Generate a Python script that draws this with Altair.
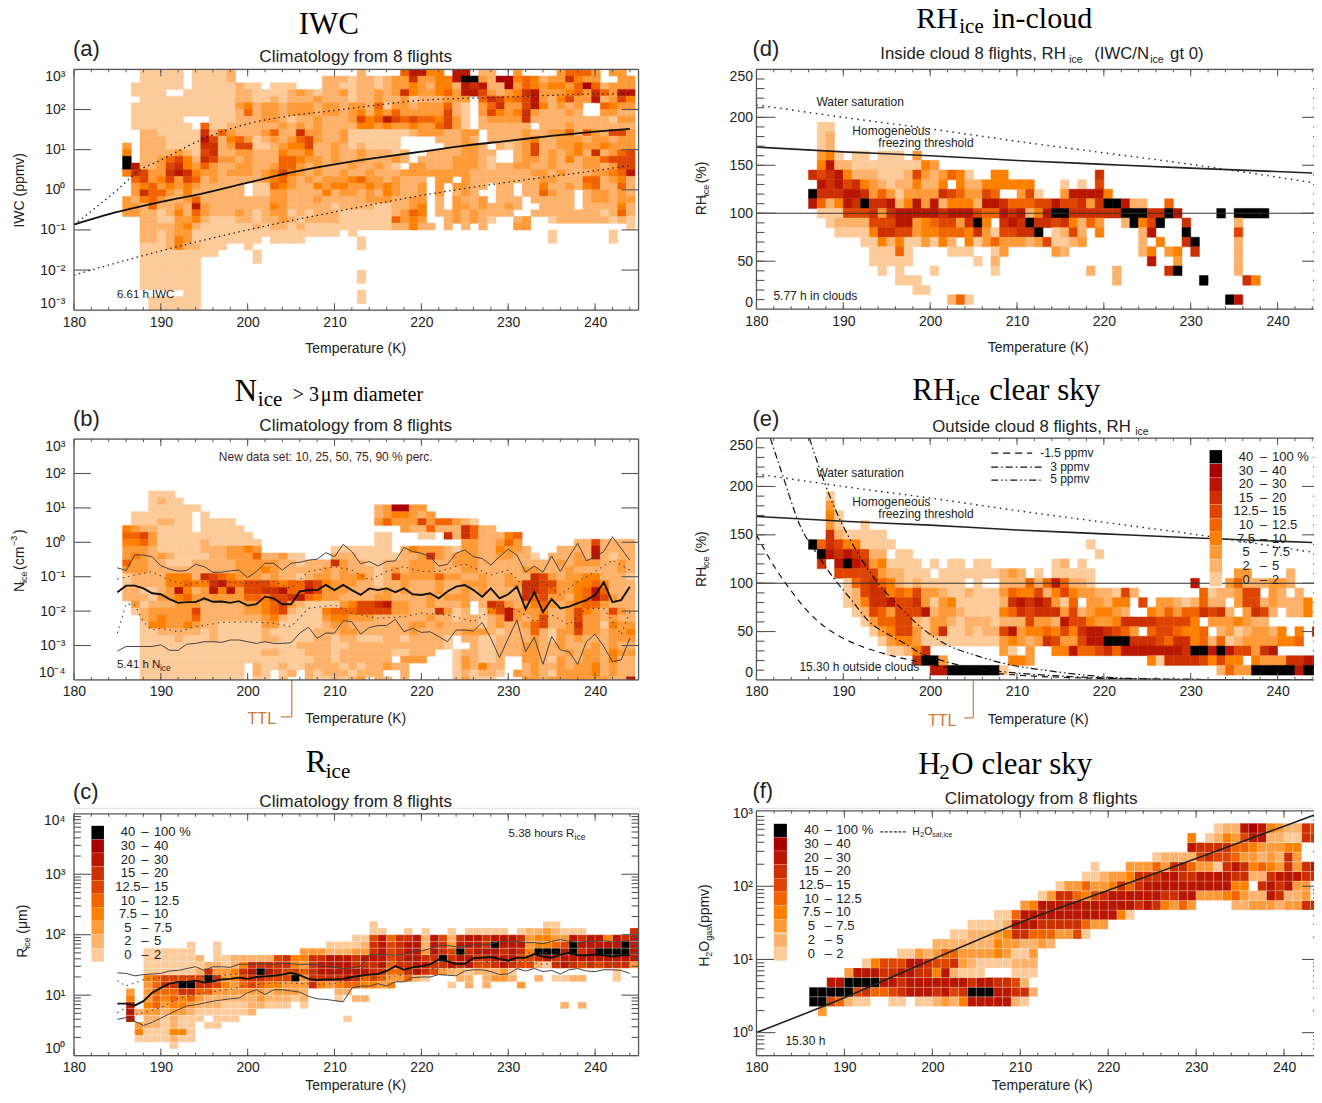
import altair as alt
import pandas as pd

SANS = "Liberation Sans"
SERIF = "Liberation Serif"
LEVELS = {'1': '#FDCB9A', '2': '#FDB26B', '3': '#FE9A37', '4': '#FE8000', '5': '#F26400',
          '6': '#DE4500', '7': '#CC2F00', '8': '#B81600', '9': '#A80000', 'X': '#000000'}
LEGEND_ORDER = ['X', '9', '8', '7', '6', '5', '4', '3', '2', '1']
LEGEND_LO = ['40', '30', '20', '15', '12.5', '10', '7.5', '5', '2', '0']
LEGEND_HI = ['100 %', '40', '30', '20', '15', '12.5', '10', '7.5', '5', '2']
TTL_ORANGE = '#C87A38'

# Panel (a): rows from the top, 6 bins per decade, columns start at 186 K
A_ROWS = [
 "..11 111.11112. .......... ...2....58 844.88.22. .3....3555 3.33.",
 "..11 111.11112. .........2 2212212337 33448XX329 9454233743 3..33",
 ".111 111.111112 11.111...2 2112212334 3244287822 9354344359 52333",
 ".111 1..1111112 2111123212 2312232374 3345388632 3478333453 75388",
 "..11 1111111112 2112122232 2212232231 222333.576 4568324633 82364",
 ".111 1111111113 4233233323 3233251332 333521.357 336842323. .5433",
 ".111 1111111112 5233233323 3234243533 333621.364 347322232. .3322",
 ".111 111...1112 2233212232 2236458656 554631.233 3372222222 22133",
 ".111 1111.51122 2222323232 2224434334 335631.222 222.222322 22222",
 "..22 1111172532 2235227332 2311111112 3332233.22 2232233525 32663",
 "..22 2111186245 3123235632 23111111.. ..22232.22 2234223332 33233",
 "3.22 2111177236 6112344622 32121111.. ...22332.2 1236223343 34333",
 "4.22 2232167223 3222433422 322322212. .22223322. .236232342 72356",
 "X.22 3564276332 3222554332 322322232. 222233321. .233232423 35666",
 "X822 3674353223 3223553232 22322321.3 3222333212 2332232223 32366",
 "4763 3787433233 3234643232 2322322233 3333332222 2223323222 33458",
 ".563 4636523222 2234532323 3345332322 2.33.32222 2222332225 52342",
 ".345 3434322222 .115432243 4433434322 3.3.3322.2 2.22422324 52252",
 ".375 5324222222 .113322224 2332324322 3.3.232..2 2.225322.2 33232",
 "3245 3223522222 2223322232 2222333223 3.2.3223.2 22.22222.2 33233",
 "3325 2232832222 2224322222 1222211223 4.2.332322 32..2222.2 22242",
 "3322 1242532223 2123312122 2111111235 4.22323222 2..2222222 21252",
 "..22 1133421112 2122321222 2111111534 3..232321. .23..12222 22121",
 "..22 2234211111 1212212111 1111111224 22.2.2.2.. .33....... ....1",
 "..22 1233111111 1111111111 1.1....... .......... .....1.... ..1..",
 "..22 1243111111 11.1111... ...1...... .......... .....1.... ..1..",
 "..11 12422111.. 1......... ...1...... .......... .......... .....",
 "..11 1111111... .1........",
 "..11 11111..... .1........",
 "..11 11111.....",
 "..11 11111..... .......... ...1......",
 "..11 11111..... .......... ...1......",
 "..11 11111.....",
 ".... ...11..... .......... ...1......",
 "...1 11111..... .......... ...1......",
 "...1 11111.....",
]

# Panel (b): rows from the top (index 26 down to -1), 5 bins per decade, columns start at 186 K
B_ROWS = [
 "...1 11",
 "...1 211",
 "...1 11111..... .......... .....23993 3",
 ".111 1111.1.... .......... .....23443 23",
 ".111 2211.1111. .......... .....35333 6355321...",
 "4322 1111.11111 .......... ........32 252227522.",
 "5563 1111111111 1......... .....11... 11.7275222 45",
 "4453 1111121111 11........ .....11... .....33223 53......22 62222",
 "3332 1111122233 43........ 1111111.24 3332133224 332...2222 82222",
 "3432 3211112233 3522311... 2221111122 3732333223 3221.22232 82122",
 "5332 2111222223 3333221222 7322112223 3322333222 2222223233 32232",
 "3332 2222222223 3343222223 2322212323 3322233222 2233222322 22232",
 "1222 2444276543 3323221233 2334212633 3353322322 3227632334 42221",
 "1222 2445447855 6665455764 3332212232 2232233322 3377663344 54222",
 "2211 2384238483 6677855863 3322223232 2232232322 2277653345 85222",
 "2221 3345333333 5546678543 3222233222 2323332222 2275633245 86322",
 ".312 2233322222 3345632111 1346678332 232223.276 3234532345 53222",
 ".123 3333622222 3345621114 5556666332 2273 12.146 8333422364 32632",
 "..23 4333522222 2234211113 4433322222 2322122123 8323622363 32322",
 "..14 4334322111 1133111112 3322222223 3232222123 2235622373 31433",
 "..11 2222212111 1121111122 2332222223 2222233321 2225213363 32334",
 "..11 1121112111 1122111122 1221112212 2221.22112 2223213232 22333",
 "..11 1111111111 1111112222 1122222222 2221..2112 2233223222 32322",
 "..11 1111111111 1122111222 1222222112 22..122112 2233222323 32433",
 "..11 1111111111 1111111122 1222222.33 3...132112 ..33213223 32422",
 "..11 1111111111 .21121122 2 212122322. ....132422 ..23223233 42322",
 "..11 1111111111 .21.12.212 2212 22..2. ....121221 .323213333 42322",
 "..11 1111111111 .11.2..211 2123.22.2. ....13111. ..33233333 33228",
]

# Panel (c): rows from the top (index 18 down to 0), 9 bins per decade, columns start at 186 K
C_ROWS = [
 ".... .......... .......... ....1..... .......... ....11",
 ".... .......... .......... ....11..1. 1..1.11111 .1223 2111. ....7",
 ".... .......... .......... ..11685778 2862788788 8734433 87 8 84878",
 ".... ...1..1... .........1 1112786788 2873888 7X8 8834456X88 888X8",
 "..11 1111..1... ......3332 2233786788 3876X78887 874XXX8X78 XXXX8",
 "..11 1111 2.1122 2226744778 8878886788 77X7887788 8667878888 88888",
 "..11 1111122124 7777743788 8877785778 8778786678 7662178767 67773",
 "..11 1111273347 8X87665788 8888775578 7632212223 1......... ..1..",
 "..45 666 6 6X7346 7766 6X3777 7875653352 1...22.233 2..2.1122. ..1..",
 "..35 77XX776435 6544333743 4554434... ...1.2.2.. .3........",
 "3.35 5577553333 3323332... 22........",
 "4.35 4545322222 2322212... 1.22......",
 "8.45 3443222111 2211 1.1... .......... .......... ......2.2.",
 "8233 2332111111 2",
 "8.22 1211 1.111. .......... .1........",
 ".322 1211.11...",
 ".411 1441",
 ".111 1211",
 ".... .1",
]

# Panel (d): (RH row, first column K, levels)
D_ROWS = [
 (190, 187, "11"), (180, 187, "12"), (170, 187, "12"),
 (160, 187, "341.11.111.3"),
 (150, 187, "48221111111 1 43".replace(" ", "")),
 (140, 186, "767 8 4 2 2 2 1 1 1 2 6 3 2 3 5 4 1 . . 4 4 .......... 7"),
 (130, 187, "8 7 8 6 7 4 3 2 1 2 2 4 2 2 4 . 4 2 2 4 4 4 4 4 4 ... 1 . 1 . 6"),
 (120, 186, "X 7 7 7 8 8 7 3 5 3 1 3 3 3 3 7 6 5 3 3 6 5 . . 3 6 1 . . 3 8 8 8 8 4"),
 (110, 186, "8 5 2 4 8 7 X 7 7 8 2 4 8 3 8 2 4 4 4 2 8 8 7 5 5 5 6 6 8 6 6 7 3 7 X X 8 2 2 . . 5"),
 (100, 187, "111 666 7 3 7 88888 7 888 6 5 5 8 7 8 2 4 8 XX 777777 XXX 77 X 8 .... X . XXXX"),
 (90, 188, "1 2 2 2 2 6 6 6 8 8 3 4 5 6 6 3 7 X 4 . 7 8 7 X 7 7 6 7 4 2 5 3 . . 2 X 4 6 X . . 7 ..... 2"),
 (80, 189, "1 1 1 1 4 7 7 6 6 3 4 4 5 5 5 4 7 3 1 6 6 7 7 X . 1 2 6 2 . 4 .... 2 8 ... X ..... 6"),
 (70, 192, "1 1 4 2 4 1 1 3 1 4 2 . 4 1 3 5 3 3 3 2 3 6 1 1 2 3 ...... 2 . 4 . . 7 X .... 2"),
 (60, 193, "1 1 1 5 1 .... 1 1 1 .. 1 3 ..... 3 2 ........ 2 4 . 3 4 . 7 .... 2"),
 (50, 193, "11111 ....... 1 . 2 ................. 8 .. 3 ...... 2"),
 (40, 194, "1 . 1 ... 1 ...... 1 .......... 2 .. 2 ..... 7 X ...... 2"),
 (30, 196, "111 ...................... 2 ......... X .... 7 4"),
 (20, 198, "11"),
 (10, 202, "251 ............................. X 8"),
]

# Panel (e): (RH row, first column K, levels)
E_ROWS = [
 (190, 188, "1"), (180, 188, "3"), (170, 188, "41"), (160, 188, "31..1"),
 (150, 188, "7211111"),
 (140, 186, "X 5 7 6 4 4 1 1 1 1 ...................... 1"),
 (130, 187, "X 8 7 8 7 6 2 2 . 1 1 ..................... 1"),
 (120, 187, "7 . 8 X 8 7 3 4 1 1 1 1 . 1 . 1 1 . 1 1 ....... 1 2 . 1"),
 (110, 189, "6 6 6 6 6 3 2 2 1 1 1 . 1 1 1 1 1 1 1 2 3 2 . 1 . 1 1 1 1 1 ................ 3 3 .... 2"),
 (100, 190, "1 5 6 7 5 4 2 1 2 1 1 1 1 1 . 1 . . 2 2 2 5 2 5 8 5 2 2 1 ........... 8 ... 3 5 2 2 2 3 3 2"),
 (90, 190, "1 2 6 7 7 4 5 4 6 3 3 2 1 1 2 1 1 1 3 5 4 4 6 2 4 6 4 3 3 2 2 1 6 2 ....... 5 1 2 2 3 6 6 . 3 2 . 2"),
 (80, 190, "1 2 4 7 7 8 6 6 7 3 1 3 4 1 1 1 1 1 2 7 8 7 8 7 3 1 5 . 3 3 2 4 4 . 6 . 3 3 2 1 2 5 2 2 . 3 6 6 2 3 2 2 2 4"),
 (70, 191, "1 2 6 5 3 6 6 6 8 2 3 3 2 1 1 1 1 4 5 7 6 7 7 7 3 6 2 3 4 4 3 2 . . 4 3 5 3 5 5 7 6 7 2 . 3 7 6 2 . 2 2 4"),
 (60, 192, "1 3 5 5 6 6 2 1 3 3 2 1 2 2 2 1 2 2 2 6 3 3 2 8 6 6 4 3 3 4 7 7 7 7 6 6 6 6 4 . 3 3 3 4 3 2 2 . ."),
 (50, 193, "1 3 4 6 6 3 1 3 7 1 1 2 1 2 2 6 8 3 4 4 5 4 6 4 7 8 8 7 6 5 3 . 5 6 6 5 4 4 5 . 2 3 1 2 3 3 2 4 . 4 . 8"),
 (40, 194, "1 3 4 4 3 1 1 1 1 1 1 1 1 1 3 4 3 2 3 7 6 3 3 6 8 8 X X X 7 7 7 6 5 7 7 4 5 2 5 1 2 3 3 3 3 4 4 5"),
 (30, 195, "1 1 2 4 7 ........ 3 1 . 3 . . 4 4 8 5 5 6 7 5 8 8 8 8 8 8 8 7 X X 8 X 8 6 6 3 7 8"),
 (20, 198, "7 X X 3 ....... 4 4 3 ............. 4 1 7 7 7 7 6 4 6 4 4 . 4 3 3 3 7 7 8 8"),
 (10, 200, "8 8 X X X X X X 1 ........................ 2 5 3 3 X X X X X 8 X X"),
]

# Panel (f): (row index, first column K, levels)
F_ROWS = [
 (-1, 187, "3"),
 (0, 186, "X X 6 5 2 1 1 . . 1 1 . 1 1 2 3 2 4 8 8 8 8 8 2 1"),
 (1, 186, "X X X X X 6 7 5 5 6 7 8 8 8 7 8 6 7 X X X 8 8 7 7 2"),
 (2, 188, "8 8 X X X X 8 8 7 8 8 8 8 8 8 8 7 8 8 7 7 6 2"),
 (3, 190, "3 8 8 8 7 7 8 8 7 7 4 8 2 1 1 1 . . . 1 1 1"),
 (4, 192, "1 4 6 6 6 8 8 7 6 6 7 3 2 1 1 1 1 2 2 2"),
 (5, 196, "1 1 3 2 3 5 5 3 3 3 3 4 3 1 1 3"),
 (6, 200, "2 2 2 2 2 2 2 4 3 3 2 2 3 2"),
 (7, 202, "1 1 2 2 2 3 4 7 7 5 5 5 3 3 6 1"),
 (8, 204, "1 1 1 1 2 8 8 8 7 7 7 7 7 5 3 3"),
 (9, 207, "1 1 5 8 8 8 8 8 8 8 8 8 8 8 4 1"),
 (10, 210, "3 4 8 8 8 8 8 8 8 8 8 8 8 7 8 7 4 3 5 3 . . . . 2 2 3 3 3 2 3 3 7 7 3"),
 (11, 212, "1 3 7 7 5 4 6 7 8 8 8 8 8 8 7 7 8 8 3 3 3 4 5 3 2 2 8 7 2 2 3 . 2 6"),
 (12, 214, "1 3 3 5 3 3 4 7 5 7 8 8 8 8 8 8 8 8 8 8 4 4 . 7 8 7 8 3 3 . 7"),
 (13, 217, "1 1 2 3 3 4 7 7 7 8 8 7 7 8 8 8 8 7 7 2 2 7 8 8 8 7 7 5"),
 (14, 218, "1 ... 3 3 3 5 3 7 7 5 3 3 1 7 8 7 4 5 4 3 7 3 7 8 8"),
 (15, 225, "1 2 2 2 2 6 7 6 6 5 3 3 2 3 2 7 3 . . 8"),
 (16, 229, "8 7 7 7 7 5 5 4 3 3 3 4 4"),
 (17, 229, "4 . 1 2 4 3 6 8 8 2 2 1 1 7 7"),
 (18, 232, "1 2 2 8 9 8 4 3 2 2 7 6 1"),
]

# Solid and dotted curves, panel (a): temperature, IWC in ppmv
A_T = [180, 185, 190, 195, 200, 205, 210, 215, 220, 225, 230, 235, 240, 244]
A_MED = [.135, .28, .5, .83, 1.5, 2.7, 4.3, 6.3, 8.9, 12.6, 16.6, 22, 28, 33]
A_UP_T = [180, 185, 187.5, 190, 195, 200, 205, 210, 215, 220, 225, 230, 235, 240, 244]
A_UP = [.135, 1.0, 3, 5.5, 19, 44, 70, 95, 130, 170, 190, 205, 225, 245, 245]
A_LO_T = [180, 182, 190, 200, 210, 220, 230, 240, 244]
A_LO = [.0075, .01, .03, .1, .28, .72, 1.55, 3, 4]

# Panel (b) percentiles, decades of cm-3
B_T = list(range(185, 245))
B_P90 = [-.74,-.82,-.37,-.37,-.42,-.68,-.78,-.84,-.82,-.64,-.71,-.87,-.87,-.83,-.81,-1.03,-.85,-.61,-.61,-.81,-.61,-.58,-.52,-.49,-.30,-.42,-.06,-.27,-.62,-.56,-.69,-.56,-.54,-.15,-.27,-.32,-.42,-.69,-.64,-.32,-.22,-.42,-.47,-.66,-.42,-.20,-.37,-.87,-.69,-.87,-.40,-.85,-.42,-.03,-.54,-.42,-.27,.16,-.18,-.52]
B_P50 = [-1.45,-1.26,-1.26,-1.34,-1.48,-1.51,-1.65,-1.76,-1.74,-1.74,-1.63,-1.73,-1.72,-1.76,-1.71,-1.84,-1.80,-1.58,-1.63,-1.80,-1.80,-1.43,-1.39,-1.39,-1.24,-1.39,-1.24,-1.39,-1.53,-1.34,-1.39,-1.34,-1.45,-1.34,-1.51,-1.53,-1.48,-1.63,-1.43,-1.29,-1.24,-1.39,-1.58,-1.34,-1.63,-1.51,-1.29,-1.94,-1.45,-2.03,-1.65,-1.92,-1.87,-1.77,-1.68,-1.53,-1.16,-1.74,-1.68,-1.29]
B_P10 = [-3.16,-3.03,-3.03,-3.03,-3.03,-2.98,-3.14,-3.14,-2.96,-2.94,-2.89,-2.89,-2.91,-2.84,-2.84,-2.89,-2.94,-2.89,-2.94,-2.94,-2.92,-2.64,-2.47,-2.79,-2.64,-2.64,-2.28,-2.31,-2.67,-2.48,-2.42,-2.42,-2.24,-2.60,-2.50,-2.62,-2.60,-2.74,-2.89,-2.55,-2.55,-2.58,-2.33,-2.79,-3.35,-2.79,-2.26,-3.18,-2.76,-3.55,-2.74,-3.13,-3.18,-3.55,-2.89,-2.67,-3.03,-3.47,-3.42,-2.79]
B_P75_T = [185,187,189,191,193,195,197,200,203,205,207,210,212,214,216,218,220,222,225,228,230,232,234,236,238,240,242,244]
B_P75 = [-1.07,-.95,-.85,-1.10,-1.24,-1.14,-1.14,-1.19,-1.14,-1.34,-.85,-.71,-.81,-1.10,-.85,-.71,-.85,-.85,-.63,-.95,-.81,-1.34,-1.14,-1.53,-1.14,-.85,-.52,-.81]
B_P25_T = [185,186,187,188,189,190,192,194,197,200,203,205,207,210,212,215,218,220,223,226,229,231,233,235,237,239,241,243,244]
B_P25 = [-2.64,-1.79,-1.82,-2.31,-2.55,-2.50,-2.60,-2.45,-2.33,-2.31,-2.35,-2.45,-1.92,-1.82,-2.06,-2.21,-2.16,-2.06,-2.11,-2.31,-1.82,-1.97,-2.31,-2.11,-2.40,-1.92,-1.92,-2.69,-2.02]

# Panel (c) percentiles, decades of micrometres
C_T = list(range(185, 245))
C_P90 = [1.37,1.36,1.32,1.34,1.35,1.36,1.40,1.41,1.44,1.47,1.41,1.47,1.47,1.46,1.51,1.51,1.52,1.52,1.51,1.53,1.52,1.51,1.51,1.50,1.48,1.46,1.44,1.45,1.48,1.67,1.67,1.67,1.66,1.68,1.72,1.73,1.77,1.82,1.82,1.80,1.81,1.84,1.84,1.84,1.89,1.89,1.89,1.87,1.87,1.85,1.89,1.92,1.89,1.87,1.89,1.89,1.90,1.88,1.89,1.89]
C_P50 = [.86,.86,.83,.90,1.04,1.12,1.19,1.22,1.22,1.24,1.21,1.23,1.26,1.27,1.29,1.27,1.30,1.31,1.32,1.34,1.37,1.33,1.27,1.25,1.26,1.26,1.27,1.30,1.32,1.34,1.35,1.40,1.48,1.42,1.46,1.48,1.51,1.59,1.56,1.52,1.52,1.61,1.62,1.63,1.60,1.57,1.62,1.62,1.68,1.64,1.62,1.67,1.70,1.66,1.66,1.67,1.66,1.64,1.66,1.66]
C_P10 = [.60,.63,.57,.50,.55,.62,.69,.76,.82,.84,.87,.90,.92,.94,.95,1.04,1.09,1.01,1.09,1.09,1.07,1.05,.98,.94,.93,.91,.89,1.12,1.15,1.15,1.19,1.15,1.22,1.22,1.29,1.30,1.30,1.34,1.33,1.32,1.40,1.42,1.42,1.39,1.34,1.35,1.44,1.40,1.44,1.39,1.41,1.35,1.42,1.44,1.40,1.39,1.42,1.42,1.41,1.36]
C_P75_T = [185,186,187,188,190,192,195,198,200,203,205,208,210,212,214,216,218,220,222,224,226,228,230,232,234,236,238,240,244]
C_P75 = [1.24,1.15,1.20,1.26,1.29,1.30,1.31,1.34,1.37,1.40,1.42,1.39,1.37,1.40,1.48,1.51,1.59,1.62,1.73,1.70,1.70,1.75,1.73,1.70,1.70,1.73,1.78,1.78,1.75]
C_P25_T = [185,186,187,188,190,192,195,198,200,203,205,208,210,212,214,216,218,220,222,224,226,228,230,232,234,236,238,240,244]
C_P25 = [.71,.79,.68,.71,.79,.95,1.04,1.10,1.16,1.20,1.20,1.18,1.19,1.26,1.29,1.29,1.34,1.40,1.45,1.45,1.51,1.56,1.53,1.56,1.51,1.53,1.53,1.50,1.53]

# Thresholds in panels (d) and (e), percent
HOM_T = [180, 190, 200, 210, 220, 230, 244]
HOM = [169, 164, 160, 155, 151, 147, 142]
WAT_T = [180, 190, 200, 210, 220, 230, 244]
WAT = [213, 200, 188, 175, 163, 151, 132]
M15_T = [180,182,184,186,188,190,192,194,196,198,200,205,210,220,230,244]
M15 = [150,118,92,70,54,43,35,29,24,20,16,9,5,1.5,.5,.1]
M3_T = [181.6,183,185,187,189,191,193,195,197,199,201,203,206,210,215,220,230,244]
M3 = [250,212,160,130,104,82,60,48,38,27,21,16,11,7,4,2,.5,.1]
M5_T = [186.1,187.8,189,190.5,192,194,196,199,202,205,209,214,219,223,230,244]
M5 = [250,205,178,150,126,100,80,54,36,26,16,9,4,1.5,.5,.1]

# Saturation line in panel (f), ppmv
SAT_T = [180, 190, 200, 210, 220, 230, 240, 244]
SAT = [1, 3, 10, 32, 88, 240, 660, 1000]

X_LABELS = [180, 190, 200, 210, 220, 230, 240]
X_MINOR = list(range(182, 245, 2))
DUMMY = alt.Data(values=[{"a": 1}])
SUP = str.maketrans("-0123456789", "⁻⁰¹²³⁴⁵⁶⁷⁸⁹")
AXIS_GREY = "#555"


def cells(rows):
    out = []
    for lo, hi, start, s in rows:
        s = s.replace(" ", "")
        for i, ch in enumerate(s):
            if ch in LEVELS:
                out.append(dict(x0=start + i, x1=start + i + 1, y0=lo, y1=hi, c=LEVELS[ch]))
    return pd.DataFrame(out)


def with_offset(df, dx):
    df = df.copy()
    df["x0"] += dx
    df["x1"] += dx
    return df


class Panel:
    """gy: top of the grid cell on the page; top, bottom: the plot box on the page."""
    def __init__(self, ox, gy, top, bottom, w, xmax, ydom, log):
        self.ox, self.oy, self.w = ox, gy, w
        self.t = top - gy
        self.h = bottom - gy
        self.top, self.bottom = top, bottom
        self.xs = alt.Scale(domain=[180, xmax], nice=False, zero=False)
        rng = [self.h, self.t]
        self.ys = (alt.Scale(type="log", domain=ydom, nice=False, range=rng) if log
                   else alt.Scale(domain=ydom, nice=False, zero=False, range=rng))
        self.xax = alt.Axis(values=X_LABELS, ticks=False, domain=False, grid=False, title=None, labelFlush=False,
                            labelFontSize=14, labelFont=SANS, labelColor="#222", labelPadding=5, format="d")
        self.yax = None
        self.layers = []

    def rect(self, df, yvals, ylabels, pad, seams=False):
        yax = dict(values=yvals, ticks=False, domain=False, grid=False, title=None, labelFontSize=14,
                   labelFont=SANS, labelColor="#222", labelPadding=pad, labelFlush=True)
        if ylabels is not None:
            yax["labelExpr"] = " : ".join(f"abs(datum.value - {v}) < {abs(v) * 1e-6} ? '{t}'"
                                          for v, t in zip(yvals, ylabels)) + " : ''"
        self.yax = alt.Axis(**yax)
        enc = dict(x=alt.X("x0:Q", scale=self.xs, axis=self.xax), x2="x1:Q",
                   y=alt.Y("y0:Q", scale=self.ys, axis=self.yax), y2="y1:Q",
                   color=alt.Color("c:N", scale=None))
        if seams:
            mark = alt.Chart(df).mark_rect(clip=True, stroke="white", strokeWidth=0.35, strokeOpacity=0.6)
        else:
            mark = alt.Chart(df).mark_rect(clip=True, strokeWidth=0.5)
            enc["stroke"] = alt.Stroke("c:N", scale=None)
        self.layers.append(mark.encode(**enc))

    def line(self, xs, ys, width=1.2, color="#111", dash=None, interp="linear"):
        kw = dict(strokeDash=dash) if dash else {}
        self.layers.append(alt.Chart(pd.DataFrame(dict(t=xs, v=ys))).mark_line(
            clip=True, color=color, strokeWidth=width, interpolate=interp, **kw).encode(
            x=alt.X("t:Q", scale=self.xs, axis=self.xax), y=alt.Y("v:Q", scale=self.ys, axis=self.yax)))

    def yticks(self, vals, size, color=AXIS_GREY):
        df = pd.DataFrame(dict(v=vals))
        for a, b in ((0, size), (self.w - size, self.w)):
            self.layers.append(alt.Chart(df).mark_rule(color=color, strokeWidth=1.1).encode(
                y=alt.Y("v:Q", scale=self.ys, axis=self.yax), x=alt.value(a), x2=alt.value(b)))

    def xticks(self, vals, size, color=AXIS_GREY):
        df = pd.DataFrame(dict(v=vals))
        for a, b in ((self.h, self.h - size), (self.t, self.t + size)):
            self.layers.append(alt.Chart(df).mark_rule(color=color, strokeWidth=1).encode(
                x=alt.X("v:Q", scale=self.xs, axis=self.xax), y=alt.value(a), y2=alt.value(b)))

    def text(self, t, X, Y, size=13, font=SANS, align="left", angle=0, color="#222"):
        self.layers.append(alt.Chart(DUMMY).mark_text(
            font=font, fontSize=size, align=align, baseline="middle", angle=angle, color=color).encode(
            x=alt.value(X - self.ox), y=alt.value(Y - self.oy), text=alt.value(t)))

    def seg(self, X1, Y1, X2, Y2, color="#222", width=1.2, dash=None):
        kw = dict(strokeDash=dash) if dash else {}
        self.layers.append(alt.Chart(DUMMY).mark_rule(color=color, strokeWidth=width, **kw).encode(
            x=alt.value(X1 - self.ox), x2=alt.value(X2 - self.ox),
            y=alt.value(Y1 - self.oy), y2=alt.value(Y2 - self.oy)))

    def legend(self, X1, X2, ys, lo_x, dash_x, hi_x, size=13):
        h = 6.7
        for code, lo, hi, y in zip(LEGEND_ORDER, LEGEND_LO, LEGEND_HI, ys):
            self.layers.append(alt.Chart(DUMMY).mark_rect(color=LEVELS[code]).encode(
                x=alt.value(X1 - self.ox), x2=alt.value(X2 - self.ox),
                y=alt.value(y - h - self.oy), y2=alt.value(y + h - self.oy)))
            self.text(lo, lo_x, y, size, align="center")
            self.text("–", dash_x, y, size, align="center")
            self.text(hi, hi_x, y, size)

    def chart(self):
        l, r = self.ox, self.ox + self.w
        self.seg(l, self.top, r, self.top, AXIS_GREY)
        self.seg(l, self.bottom, r, self.bottom, AXIS_GREY)
        self.seg(l, self.top, l, self.bottom, AXIS_GREY)
        self.seg(r, self.top, r, self.bottom, AXIS_GREY)
        self.xticks(X_LABELS, 7)
        self.xticks(X_MINOR, 3)
        return alt.layer(*self.layers).properties(width=self.w, height=self.h)


def dec_labels(exps):
    return [10.0 ** e for e in exps], ["10" + str(e).translate(SUP) for e in exps]


ROW1, ROW2, ROW3 = 69, 438, 808
SUB = 17.2   # panel subtitles
AX = 14      # axis titles

# ---------- (a)
a = Panel(73, ROW1, 69, 310, 565, 245, [1e-3, 1e3], True)
rows = [(10 ** (3 - (i + 1) / 6), 10 ** (3 - i / 6), 186, s) for i, s in enumerate(A_ROWS)]
yv, yl = dec_labels([-3, -2, -1, 0, 1, 2, 3])
a.rect(with_offset(cells(rows), -0.4), yv, yl, 9)
a.line(A_T, A_MED, 1.8, "#111", interp="monotone")
a.line(A_UP_T, A_UP, 1.3, "#222", [1.5, 3.5], interp="monotone")
a.line(A_LO_T, A_LO, 1.3, "#222", [1.5, 3.5], interp="monotone")
a.yticks(yv[1:-1], 17)
a.text("IWC", 328, 25, 31, SERIF, "center", color="#000")
a.text("(a)", 72, 49, 22)
a.text("Climatology from 8 flights", 355, 57, SUB, align="center")
a.text("6.61 h IWC", 116, 295, 11.5)
a.text("IWC (ppmv)", 19, 190, AX, align="center", angle=270)
a.text("Temperature (K)", 355, 349, AX, align="center")
a.layers.append(alt.Chart(DUMMY).mark_point(opacity=0, size=1).encode(x=alt.value(-65), y=alt.value(-61)))

# ---------- (b)
b = Panel(73, ROW2, 439, 680, 565, 245, [1e-4, 1e3], True)
rows = [(10 ** (-4 + 0.2 * (k + .45)), 10 ** (-4 + 0.2 * (k + 1.45)), 186, s)
        for k, s in zip(range(26, -2, -1), B_ROWS)]
yv, yl = dec_labels([-4, -3, -2, -1, 0, 1, 2, 3])
b.rect(with_offset(cells(rows), -0.4), yv, yl, 9)
b.line(B_T, [10 ** v for v in B_P90], 1, "#444")
b.line(B_T, [10 ** v for v in B_P50], 1.9, "#111")
b.line(B_T, [10 ** v for v in B_P10], 1, "#444")
b.line(B_P75_T, [10 ** v for v in B_P75], 1.1, "#444", [1.5, 4])
b.line(B_P25_T, [10 ** v for v in B_P25], 1.1, "#444", [1.5, 4])
b.yticks(yv[1:-1], 17)
b.text("N", 234, 392, 31, SERIF, color="#000")
b.text("ice", 257, 400, 21, SERIF, color="#000")
b.text("> 3", 292, 395, 20, SERIF, color="#000")
b.text("μ", 320, 395, 20, SERIF, color="#000")
b.text("m diameter", 332, 395, 20, SERIF, color="#000")
b.text("(b)", 72, 419, 22)
b.text("Climatology from 8 flights", 355, 426, SUB, align="center")
b.text("New data set: 10, 25, 50, 75, 90 % perc.", 325, 457, 12, align="center", color="#4a1c1c")
b.text("5.41 h N", 116, 665, 11.5)
b.text("ice", 159, 668, 8.5)
b.text("N", 19, 592, AX, angle=270)
b.text("ice", 23, 583, 9, angle=270)
b.text("(cm", 19, 570, AX, angle=270)
b.text("−3", 13, 546, 9, angle=270)
b.text(")", 19, 534, AX, angle=270)
b.text("Temperature (K)", 355, 719, AX, align="center")
b.text("TTL", 261, 719, 16, align="center", color=TTL_ORANGE)
b.seg(291, 680, 291, 717, TTL_ORANGE)
b.seg(280, 717, 291, 717, TTL_ORANGE)

# ---------- (c)
c = Panel(73, ROW3, 814, 1056, 565, 245, [1, 1e4], True)
rows = [(10 ** (.110 + .1111 * k), 10 ** (.110 + .1111 * (k + 1)), 186, s)
        for k, s in zip(range(18, -1, -1), C_ROWS)]
yv, yl = dec_labels([0, 1, 2, 3, 4])
c.rect(cells(rows), yv, yl, 9, seams=True)
c.line(C_T, [10 ** v for v in C_P90], 1, "#444")
c.line(C_T, [10 ** v for v in C_P50], 1.9, "#111")
c.line(C_T, [10 ** v for v in C_P10], 1, "#444")
c.line(C_P75_T, [10 ** v for v in C_P75], 1.1, "#444", [1.5, 4])
c.line(C_P25_T, [10 ** v for v in C_P25], 1.1, "#444", [1.5, 4])
c.yticks(yv[1:-1], 17)
c.yticks([m * k for k in (1, 10, 100, 1000) for m in (2, 3, 4, 5, 6, 7, 8, 9)], 7)
c.text("R", 305, 763, 31, SERIF, color="#000")
c.text("ice", 325, 772, 21, SERIF, color="#000")
c.text("(c)", 72, 792, 22)
c.text("Climatology from 8 flights", 355, 802, SUB, align="center")
c.text("5.38 hours R", 508, 834, 11.5)
c.text("ice", 574, 837, 8.5)
c.text("R", 22, 958, AX, angle=270)
c.text("ice", 26, 949, 9, angle=270)
c.text("(μm)", 22, 934, AX, angle=270)
c.text("Temperature (K)", 355, 1086, AX, align="center")
c.legend(90.5, 103, [832.7, 846.3, 860, 873.7, 887.3, 901, 914.3, 928, 941.7, 955.3], 127, 144, 153)

# ---------- (d)
d = Panel(756, ROW1, 69, 309, 565, 245, [0, 250], False)
rows = [(v - 5, v + 5, st, s) for v, st, s in D_ROWS]
yv = [0, 50, 100, 150, 200, 250]
d.rect(cells(rows), yv, None, 4)
d.line(HOM_T, HOM, 1.6, "#222", interp="monotone")
d.line(WAT_T, WAT, 1.4, "#222", [1.5, 4.5], interp="monotone")
d.line([180, 245], [100, 100], 1.1, "#333")
d.yticks(yv[1:-1], 19)
d.yticks(list(range(10, 250, 10)), 8)
d.text("RH", 916, 19, 30, SERIF, color="#000")
d.text("ice", 959, 27, 21, SERIF, color="#000")
d.text("in-cloud", 992, 19, 30, SERIF, color="#000")
d.text("(d)", 752, 49, 22)
d.text("Inside cloud 8 flights, RH", 880, 54, 16.8)
d.text("ice", 1069, 60, 10.5)
d.text("(IWC/N", 1094, 54, 16.8)
d.text("ice", 1150, 60, 10.5)
d.text("gt 0)", 1170, 54, 16.8)
d.text("Water saturation", 816, 102, 12)
d.text("Homogeneous", 852, 131, 12)
d.text("freezing threshold", 878, 143, 12)
d.text("5.77 h in clouds", 773, 296, 12)
d.text("RH", 702, 215, AX, angle=270)
d.text("ice", 706, 196, 9, angle=270)
d.text("(%)", 702, 183, AX, angle=270)
d.text("Temperature (K)", 1038, 348, AX, align="center")

# ---------- (e)
e = Panel(756, ROW2, 438, 680, 565, 245, [0, 250], False)
rows = [(v - 5, v + 5, st, s) for v, st, s in E_ROWS]
e.rect(cells(rows), yv, None, 4)
e.line(HOM_T, HOM, 1.6, "#222", interp="monotone")
e.line(WAT_T, WAT, 1.4, "#222", [1.5, 4.5], interp="monotone")
e.line([180, 245], [100, 100], 1.1, "#333")
e.line(M15_T, M15, 1.2, "#111", [6, 5], interp="monotone")
e.line(M3_T, M3, 1.2, "#111", [7, 3, 1.5, 3], interp="monotone")
e.line(M5_T, M5, 1.2, "#111", [7, 3, 1.5, 3, 1.5, 3], interp="monotone")
e.yticks(yv[1:-1], 19)
e.yticks(list(range(10, 250, 10)), 8)
e.text("RH", 912, 391, 31, SERIF, color="#000")
e.text("ice", 955, 399, 21, SERIF, color="#000")
e.text("clear sky", 989, 391, 31, SERIF, color="#000")
e.text("(e)", 752, 419, 22)
e.text("Outside cloud 8 flights, RH", 932, 427, 16.8)
e.text("ice", 1135, 432, 10.5)
e.seg(991, 453, 1032, 453, "#111", dash=[7, 5])
e.text("-1.5 ppmv", 1040, 453, 12)
e.seg(991, 467, 1042, 467, "#111", dash=[7, 3, 1.5, 3])
e.text("3 ppmv", 1050, 467, 12)
e.seg(991, 480, 1042, 480, "#111", dash=[7, 3, 1.5, 3, 1.5, 3])
e.text("5 ppmv", 1050, 479, 12)
e.text("Water saturation", 816, 473, 12)
e.text("Homogeneous", 852, 502, 12)
e.text("freezing threshold", 878, 514, 12)
e.text("15.30 h outside clouds", 799, 667, 12)
e.text("RH", 702, 587, AX, angle=270)
e.text("ice", 706, 568, 9, angle=270)
e.text("(%)", 702, 553, AX, angle=270)
e.text("Temperature (K)", 1038, 720, AX, align="center")
e.text("TTL", 942, 721, 16, align="center", color=TTL_ORANGE)
e.seg(973, 680, 973, 718, TTL_ORANGE)
e.seg(964, 718, 973, 718, TTL_ORANGE)
e.legend(1209.5, 1222, [456.7, 470.7, 484.3, 497.7, 511.3, 525, 538.7, 552.3, 566, 579.7], 1246, 1263.5, 1272)

# ---------- (f)
f = Panel(756, ROW3, 811, 1056, 565, 244.2, [0.485, 1075], True)
rows = [(10 ** (.423 + .1318 * i - .0659), 10 ** (.423 + .1318 * i + .0659), st, s) for i, st, s in F_ROWS]
yv, yl = dec_labels([0, 1, 2, 3])
f.rect(cells(rows), yv, yl, 4, seams=True)
f.line(SAT_T, SAT, 1.6, "#222", interp="monotone")
f.yticks(yv[:-1], 19)
f.yticks([.6, .7, .8, .9] + [m * k for k in (1, 10, 100) for m in (2, 3, 4, 5, 6, 7, 8, 9)], 8)
f.text("H", 918, 765, 31, SERIF, color="#000")
f.text("2", 939, 773, 21, SERIF, color="#000")
f.text("O clear sky", 951, 765, 31, SERIF, color="#000")
f.text("(f)", 752, 791, 22)
f.text("Climatology from 8 flights", 1041, 799, SUB, align="center")
f.text("15.30 h", 785, 1041, 12)
f.text("H", 705, 967, AX, angle=270)
f.text("2", 709, 957, 9, angle=270)
f.text("O", 705, 952, AX, angle=270)
f.text("gas", 709, 941, 9, angle=270)
f.text("(ppmv)", 705, 928, AX, angle=270)
f.text("Temperature (K)", 1042, 1086, AX, align="center")
f.legend(773.4, 786.5, [830.7, 844.3, 858, 871.7, 885.3, 899, 912.7, 926.3, 940.7, 954.3], 811, 828, 836)
f.seg(880, 832, 907, 832, "#333", dash=[3, 1.5])
f.text("H", 912, 832, 10.5)
f.text("2", 920, 835, 7)
f.text("O", 924, 832, 10.5)
f.text("sat,ice", 932, 835, 7)

chart = alt.concat(a.chart(), d.chart(), b.chart(), e.chart(), c.chart(), f.chart(), columns=2, bounds="flush",
                   spacing={"column": 118, "row": 128},
                   padding={"top": -5, "bottom": 0, "left": 0, "right": -9}).configure_view(
    stroke=None).configure(background="white")
chart.save("out.html", embed_options={"renderer": "svg", "actions": False})
